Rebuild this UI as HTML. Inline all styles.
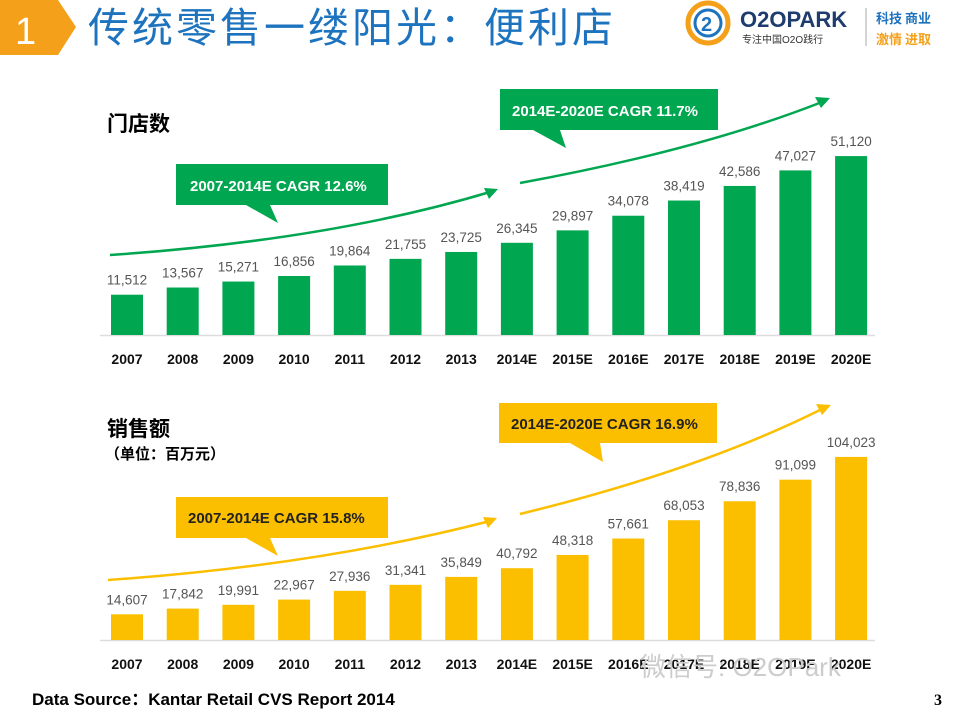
<!DOCTYPE html>
<html><head><meta charset="utf-8">
<style>
body{margin:0;width:960px;height:720px;background:#fff;overflow:hidden;font-family:"Liberation Sans","Noto Sans CJK SC",sans-serif;}
svg{display:block}
</style></head>
<body>
<svg width="960" height="720" viewBox="0 0 960 720" xmlns="http://www.w3.org/2000/svg">
  <polygon points="0,0 58,0 76,27 58,55 0,55" fill="#f5a01a"/>
  <text x="15" y="44" font-size="38" fill="#fff" font-family="Liberation Sans, sans-serif">1</text>
  <text x="88" y="42" font-size="41" fill="#1e73be" font-family="Liberation Sans, Noto Sans CJK SC, sans-serif" letter-spacing="3">传统零售一缕阳光：便利店</text>
  <g>
    <circle cx="708" cy="23" r="20" fill="none" stroke="#f5a01a" stroke-width="5"/>
    <circle cx="708" cy="23" r="13" fill="none" stroke="#1e73be" stroke-width="3"/>
    <text x="701" y="31" font-size="20" font-weight="bold" fill="#1e73be">2</text>
    <text x="740" y="27" font-size="22" font-weight="bold" fill="#1e3c6e">O2OPARK</text>
    <text x="742" y="43" font-size="10" fill="#333" font-family="Liberation Sans, Noto Sans CJK SC, sans-serif">专注中国O2O践行</text>
    <line x1="866" y1="8" x2="866" y2="46" stroke="#aaa"/>
    <text x="876" y="23" font-size="13" font-weight="bold" fill="#1e73be" font-family="Noto Sans CJK SC, sans-serif">科技 商业</text>
    <text x="876" y="44" font-size="13" font-weight="bold" fill="#f5a01a" font-family="Noto Sans CJK SC, sans-serif">激情 进取</text>
  </g>
  <text x="107" y="131" font-size="21" font-weight="bold" fill="#000" font-family="Noto Sans CJK SC, sans-serif">门店数</text>
  <text x="107" y="436" font-size="21" font-weight="bold" fill="#000" font-family="Noto Sans CJK SC, sans-serif">销售额</text>
  <text x="105" y="459" font-size="15" font-weight="bold" fill="#000" font-family="Noto Sans CJK SC, sans-serif">（单位：百万元）</text>
  <g id="chart1"></g>
  <g id="chart2"></g>

  <g>
    <path d="M110,255 Q330,240 490,192" fill="none" stroke="#00a650" stroke-width="2.5"/>
    <polygon points="498,189 484,188 489,199" fill="#00a650"/>
    <path d="M520,183 Q700,150 822,102" fill="none" stroke="#00a650" stroke-width="2.5"/>
    <polygon points="830,98 815,97 821,108" fill="#00a650"/>
    <polygon points="176,164 388,164 388,205 270,205 278,223 246,205 176,205" fill="#00a650"/>
    <text x="190" y="191" font-size="15" font-weight="bold" fill="#fff">2007-2014E CAGR 12.6%</text>
    <polygon points="500,89 718,89 718,130 560,130 566,148 533,130 500,130" fill="#00a650"/>
    <text x="512" y="116" font-size="15" font-weight="bold" fill="#fff">2014E-2020E CAGR 11.7%</text>
  </g>
  <g>
    <path d="M108,580 Q320,565 490,521" fill="none" stroke="#fbbf00" stroke-width="2.5"/>
    <polygon points="497,518 483,517 488,528" fill="#fbbf00"/>
    <path d="M520,514 Q700,470 822,409" fill="none" stroke="#fbbf00" stroke-width="2.5"/>
    <polygon points="831,405 816,404 822,415" fill="#fbbf00"/>
    <polygon points="176,497 388,497 388,538 270,538 278,556 246,538 176,538" fill="#fbbf00"/>
    <text x="188" y="523" font-size="15" font-weight="bold" fill="#222">2007-2014E CAGR 15.8%</text>
    <polygon points="499,403 717,403 717,443 600,443 603,462 570,443 499,443" fill="#fbbf00"/>
    <text x="511" y="429" font-size="15" font-weight="bold" fill="#222">2014E-2020E CAGR 16.9%</text>
  </g>

  <text x="640" y="676" font-size="26" fill="#ccc" font-family="Liberation Sans, Noto Sans CJK SC, sans-serif">微信号: O2OPark</text>
  <text x="32" y="705" font-size="17" font-weight="bold" fill="#000" font-family="Liberation Sans, Noto Sans CJK SC, sans-serif">Data Source：Kantar Retail CVS Report 2014</text>
  <text x="934" y="705" font-size="16" font-weight="bold" fill="#000" font-family="Liberation Serif, serif">3</text>
</svg>
<script>
const categories = ["2007","2008","2009","2010","2011","2012","2013","2014E","2015E","2016E","2017E","2018E","2019E","2020E"];
const storeValues = [11512,13567,15271,16856,19864,21755,23725,26345,29897,34078,38419,42586,47027,51120];
const salesValues = [14607,17842,19991,22967,27936,31341,35849,40792,48318,57661,68053,78836,91099,104023];

const NS = "http://www.w3.org/2000/svg";
function xPos(i){ return 127 + i*55.7; }
function mk(tag, attrs, parent){
  const e = document.createElementNS(NS, tag);
  for (const k in attrs) e.setAttribute(k, attrs[k]);
  parent.appendChild(e);
  return e;
}
function draw(gid, values, baseline, scale, color){
  const g = document.getElementById(gid);
  const ax = mk("line", {x1:100, x2:875, y1:baseline+0.5, y2:baseline+0.5, stroke:"#ddd", "stroke-width":1.5}, g);
  
  
  values.forEach((v, i) => {
    const h = v*scale, cx = xPos(i);
    const r = mk("rect", {x:cx-16, y:baseline-h, width:32, height:h, fill:color}, g);
    
    
    const t = mk("text", {x:cx, y:baseline-h-10, "text-anchor":"middle", "font-size":13.5, fill:"#555"}, g);
    t.textContent = v.toLocaleString("en-US");
    
    
    const c = mk("text", {x:cx, y:baseline+29, "text-anchor":"middle", "font-size":14, "font-weight":"bold", fill:"#111"}, g);
    c.textContent = categories[i];
    
    
  });
}
draw("chart1", storeValues, 335, 0.0035, "#00a650");
draw("chart2", salesValues, 640, 0.00176, "#fbbf00");
</script>
</body></html>
